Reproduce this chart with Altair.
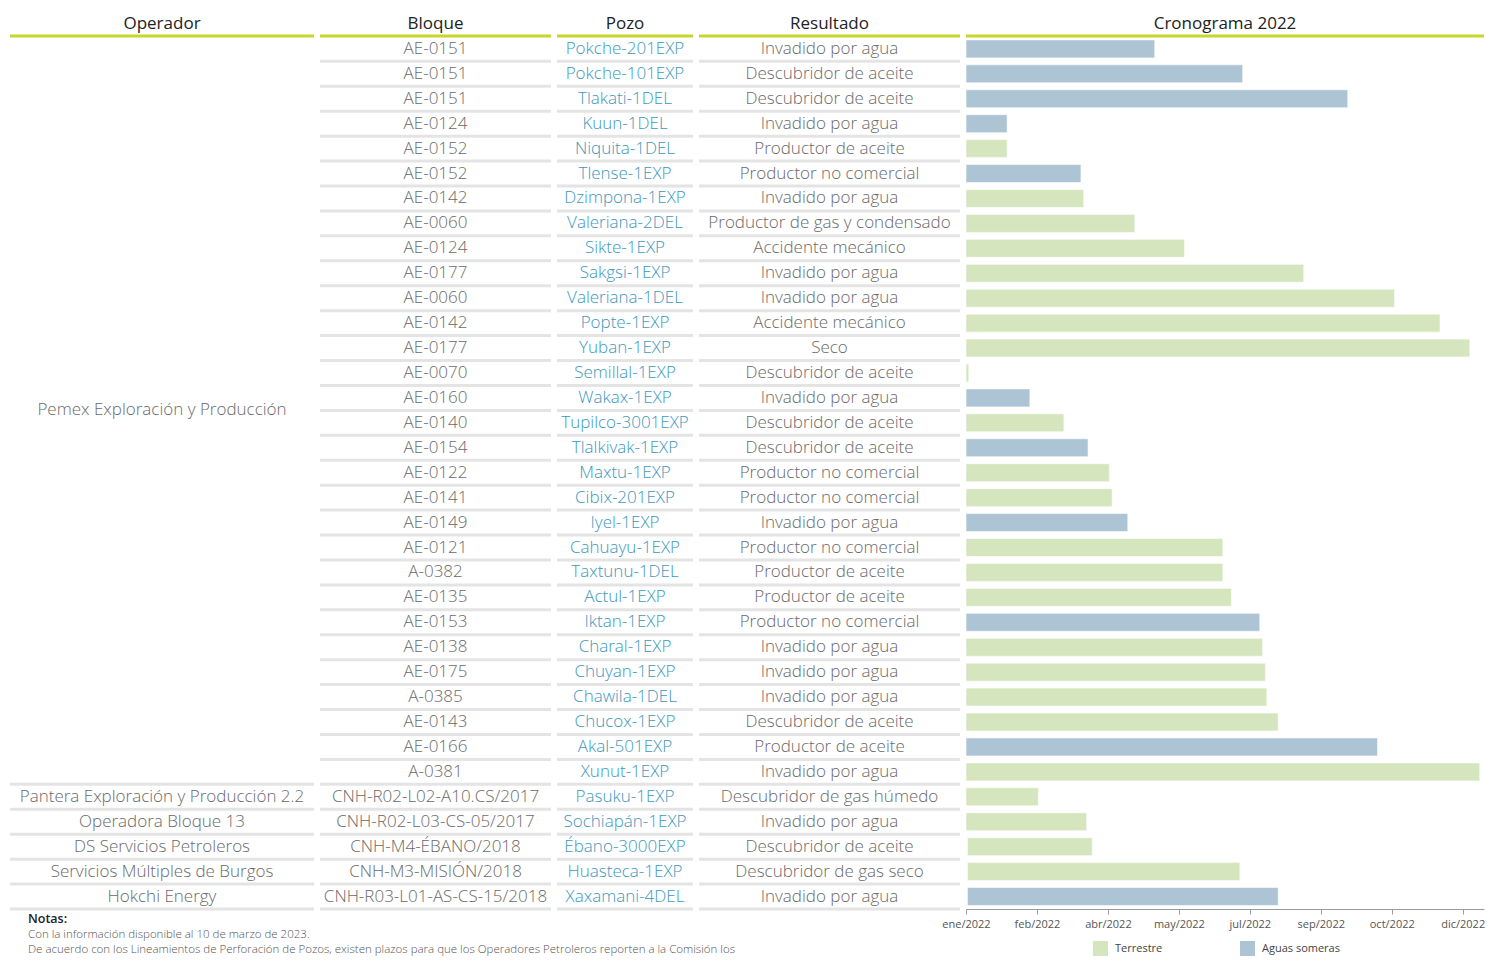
import altair as alt
import pandas as pd

# ---------------- data ----------------
operadores = ["Pemex Exploración y Producción"] * 30 + [
    "Pantera Exploración y Producción 2.2",
    "Operadora Bloque 13",
    "DS Servicios Petroleros",
    "Servicios Múltiples de Burgos",
    "Hokchi Energy",
]
bloques = [
    "AE-0151", "AE-0151", "AE-0151", "AE-0124", "AE-0152", "AE-0152", "AE-0142",
    "AE-0060", "AE-0124", "AE-0177", "AE-0060", "AE-0142", "AE-0177", "AE-0070",
    "AE-0160", "AE-0140", "AE-0154", "AE-0122", "AE-0141", "AE-0149", "AE-0121",
    "A-0382", "AE-0135", "AE-0153", "AE-0138", "AE-0175", "A-0385", "AE-0143",
    "AE-0166", "A-0381",
    "CNH-R02-L02-A10.CS/2017", "CNH-R02-L03-CS-05/2017", "CNH-M4-ÉBANO/2018",
    "CNH-M3-MISIÓN/2018", "CNH-R03-L01-AS-CS-15/2018",
]
pozos = [
    "Pokche-201EXP", "Pokche-101EXP", "Tlakati-1DEL", "Kuun-1DEL", "Niquita-1DEL",
    "Tlense-1EXP", "Dzimpona-1EXP", "Valeriana-2DEL", "Sikte-1EXP", "Sakgsi-1EXP",
    "Valeriana-1DEL", "Popte-1EXP", "Yuban-1EXP", "Semillal-1EXP", "Wakax-1EXP",
    "Tupilco-3001EXP", "Tlalkivak-1EXP", "Maxtu-1EXP", "Cibix-201EXP", "Iyel-1EXP",
    "Cahuayu-1EXP", "Taxtunu-1DEL", "Actul-1EXP", "Iktan-1EXP", "Charal-1EXP",
    "Chuyan-1EXP", "Chawila-1DEL", "Chucox-1EXP", "Akal-501EXP", "Xunut-1EXP",
    "Pasuku-1EXP", "Sochiapán-1EXP", "Ébano-3000EXP", "Huasteca-1EXP", "Xaxamani-4DEL",
]
resultados = [
    "Invadido por agua", "Descubridor de aceite", "Descubridor de aceite",
    "Invadido por agua", "Productor de aceite", "Productor no comercial",
    "Invadido por agua", "Productor de gas y condensado", "Accidente mecánico",
    "Invadido por agua", "Invadido por agua", "Accidente mecánico", "Seco",
    "Descubridor de aceite", "Invadido por agua", "Descubridor de aceite",
    "Descubridor de aceite", "Productor no comercial", "Productor no comercial",
    "Invadido por agua", "Productor no comercial", "Productor de aceite",
    "Productor de aceite", "Productor no comercial", "Invadido por agua",
    "Invadido por agua", "Invadido por agua", "Descubridor de aceite",
    "Productor de aceite", "Invadido por agua", "Descubridor de gas húmedo",
    "Invadido por agua", "Descubridor de aceite", "Descubridor de gas seco",
    "Invadido por agua",
]
A, T = "Aguas someras", "Terrestre"
ambientes = [
    A, A, A, A, T, A, T, T, T, T, T, T, T, T, A, T, A, T, T, A,
    T, T, T, A, T, T, T, T, A, T, T, T, T, T, A,
]
# days elapsed since 1 Jan 2022 (start / end of each bar)
inicio_dias = [0] * 32 + [1, 1, 1]
fin_dias = [
    133, 195, 269, 29, 29, 81, 83, 119, 154, 238, 302, 334, 355, 2, 45,
    69, 86, 101, 103, 114, 181, 181, 187, 207, 209, 211, 212, 220, 290, 362,
    51, 85, 89, 193, 220,
]
tick_dias = [0, 50, 100, 150, 200, 250, 300, 350]
tick_etiquetas = ["ene/2022", "feb/2022", "abr/2022", "may/2022",
                  "jul/2022", "sep/2022", "oct/2022", "dic/2022"]
encabezados = ["Operador", "Bloque", "Pozo", "Resultado", "Cronograma 2022"]
notas_titulo = "Notas:"
notas = [
    "Con la información disponible al 10 de marzo de 2023.",
    "De acuerdo con los Lineamientos de Perforación de Pozos, existen plazos para que los Operadores Petroleros reporten a la Comisión los",
]

# ---------------- styling ----------------
FONT = "Open Sans"
LIME = "#c8d52a"
SEP = "#e4e4e4"
GREEN = "#d5e6bf"
BLUE = "#adc4d4"
H = 900
ROW_DOMAIN = [-1.6, 34.5]
HEADER_ROW = -1.0
UNDERLINE_ROW = -0.52

n = len(pozos)
filas = list(range(n))
df = pd.DataFrame({
    "fila": filas,
    "operador": operadores,
    "bloque": bloques,
    "pozo": pozos,
    "resultado": resultados,
    "ambiente": ambientes,
    "inicio": inicio_dias,
    "fin": fin_dias,
})

yscale = alt.Scale(domain=ROW_DOMAIN, reverse=True, nice=False, zero=False, padding=0)


def Y(field="fila"):
    return alt.Y(f"{field}:Q", scale=yscale, axis=None)


def header_layers(title, width):
    head = alt.Chart(pd.DataFrame({"t": [title], "r": [HEADER_ROW]})).mark_text(
        font=FONT, fontSize=17, color="#222222", baseline="middle"
    ).encode(x=alt.value(width / 2), y=Y("r"), text="t:N")
    line = alt.Chart(pd.DataFrame({"r": [UNDERLINE_ROW]})).mark_rule(
        color=LIME, strokeWidth=3
    ).encode(x=alt.value(0), x2=alt.value(width), y=Y("r"))
    return [line, head]


def separators(rows, width):
    return alt.Chart(pd.DataFrame({"r": [r + 0.5 for r in rows]})).mark_rule(
        color=SEP, strokeWidth=3
    ).encode(x=alt.value(0), x2=alt.value(width), y=Y("r"))


def text_layer(field, width, color, data):
    return alt.Chart(data).mark_text(
        font=FONT, fontSize=17, fontWeight=300, color=color, baseline="middle"
    ).encode(x=alt.value(width / 2), y=Y("fila"), text=f"{field}:N")


def note(text, py, size, weight, color):
    return alt.Chart(pd.DataFrame({"t": [text]})).mark_text(
        font=FONT, fontSize=size, fontWeight=weight, color=color,
        align="left", baseline="middle",
    ).encode(x=alt.value(18), y=alt.value(py), text="t:N")


# operator groups (centred on their rows)
grp = df.groupby("operador", sort=False)["fila"].agg(["min", "max"]).reset_index()
grp["fila"] = (grp["min"] + grp["max"]) / 2
op_sep = list(range(int(grp["max"].iloc[0]), n))

W_OP, W_BL, W_PO, W_RE, W_CR = 304, 231, 136, 261, 518

p_op = alt.layer(
    separators(op_sep, W_OP), *header_layers(encabezados[0], W_OP),
    text_layer("operador", W_OP, "#6a6a6a", grp),
    note(notas_titulo, 910, 12.5, 600, "#222222"),
    note(notas[0], 926, 11.5, 300, "#555555"),
    note(notas[1], 941, 11.5, 300, "#555555"),
).properties(width=W_OP, height=H)
p_bl = alt.layer(
    separators(filas, W_BL), *header_layers(encabezados[1], W_BL),
    text_layer("bloque", W_BL, "#6a6a6a", df),
).properties(width=W_BL, height=H)
p_po = alt.layer(
    separators(filas, W_PO), *header_layers(encabezados[2], W_PO),
    text_layer("pozo", W_PO, "#3c98bd", df),
).properties(width=W_PO, height=H)
p_re = alt.layer(
    separators(filas, W_RE), *header_layers(encabezados[3], W_RE),
    text_layer("resultado", W_RE, "#6a6a6a", df),
).properties(width=W_RE, height=H)

labels_expr = "{}[indexof({}, datum.value)]".format(
    "[" + ",".join(f"'{t}'" for t in tick_etiquetas) + "]",
    "[" + ",".join(str(t) for t in tick_dias) + "]",
)

bars = alt.Chart(df).mark_bar(
    size=18, orient="horizontal", stroke="#ffffff", strokeWidth=1, strokeOpacity=0.6
).encode(
    x=alt.X(
        "inicio:Q",
        scale=alt.Scale(domain=[0, 365], nice=False, zero=False, padding=0),
        axis=alt.Axis(
            values=tick_dias, labelExpr=labels_expr, title=None, grid=False,
            domainColor="#9a9a9a", tickColor="#9a9a9a", tickSize=5,
            labelColor="#555555", labelFont=FONT, labelFontSize=11,
            labelPadding=4, labelOverlap=False, labelFlush=False,
        ),
    ),
    x2="fin:Q",
    y=Y("fila"),
    color=alt.Color(
        "ambiente:N",
        scale=alt.Scale(domain=[T, A], range=[GREEN, BLUE]),
        legend=alt.Legend(
            orient="none", legendX=1083, legendY=932, direction="horizontal",
            title=None, symbolType="square", symbolSize=225, symbolStrokeWidth=0,
            symbolOpacity=1, labelFont=FONT, labelFontSize=11, labelColor="#444444",
            columnPadding=77, labelOffset=7, padding=0,
        ),
    ),
)
p_cr = alt.layer(*header_layers(encabezados[4], W_CR), bars).properties(width=W_CR, height=H)

chart = alt.hconcat(p_op, p_bl, p_po, p_re, p_cr, spacing=6, bounds="flush").properties(
    padding={"left": 0, "top": 1, "right": 0, "bottom": 0},
    background="white",
).configure_view(stroke=None)

chart.save("out.html", embed_options={"renderer": "svg", "actions": False})
